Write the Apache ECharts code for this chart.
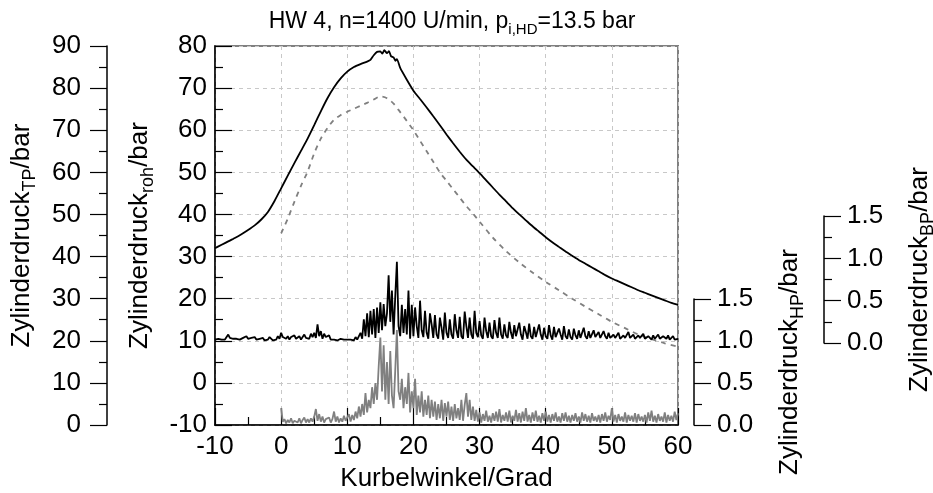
<!DOCTYPE html>
<html><head><meta charset="utf-8">
<script src="https://cdn.jsdelivr.net/npm/echarts@6/dist/echarts.min.js"></script>
<style>html,body{margin:0;padding:0;background:#fff}#c{width:933px;height:493px}</style>
</head><body><div id="c"></div>
<script>
// ---------- data ----------
const xMin = -10, xMax = 60, xInterval = 10;
const rohMin = -10, rohMax = 80;
const tpMin = 0, tpMax = 90;
const hpMin = 0, hpMax = 1.5;
const bpMin = 0, bpMax = 1.5;

// raw cylinder pressure (black solid)
const rohAngles = [-10,-9,-8,-7,-6,-5,-4,-3,-2,-1,0,1,2,3,4,5,6,7,8,9,10,11,12,13,13.5,14,14.5,15,15.3,15.6,16,16.3,16.6,17,17.3,17.5,18,19,20,21,22,23,24,25,26,27,28,29,30,31,32,33,34,35,36,37,38,39,40,41,42,43,44,45,46,47,48,49,50,51,52,53,54,55,56,57,58,59,60];
const rohValues = [32.0,32.8,33.6,34.4,35.3,36.3,37.4,38.8,40.6,43.2,46.2,49.2,52.2,55.1,58.0,61.2,64.5,67.6,70.2,72.3,73.9,75.0,75.7,76.3,76.7,77.8,78.6,78.7,78.2,79.0,78.3,78.8,77.6,77.3,76.5,76.9,74.8,72.0,69.4,67.4,65.4,63.3,61.2,59.0,56.9,54.9,53.0,51.4,49.8,48.1,46.4,44.7,43.1,41.5,40.0,38.6,37.2,35.9,34.6,33.4,32.3,31.2,30.2,29.2,28.3,27.4,26.5,25.6,24.8,24.1,23.4,22.7,22.0,21.4,20.8,20.2,19.6,19.0,18.5];

// low-pass filtered pressure (grey dashed, TP axis)
const tpAngles = [0,1,2,3,4,5,6,7,8,9,10,11,12,13,14,15,16,17,18,19,20,21,22,23,24,25,26,27,28,29,30,32,34,36,38,40,42,44,46,48,50,52,54,56,58,60];
const tpValues = [45.5,49.0,53.0,56.8,60.2,64.5,68.0,70.5,72.5,73.6,74.4,75.1,75.8,76.5,77.3,78.0,77.6,76.3,74.3,72.2,70.0,67.5,65.0,62.5,60.0,58.0,56.0,54.0,52.0,50.2,48.3,44.5,41.3,38.6,36.2,34.0,32.0,30.0,28.1,26.3,24.5,23.0,21.5,20.4,19.4,18.6];

// band-pass signal (black, BP axis), sampled every 0.25 deg from -10
const bpStart = -10, bpStep = 0.25;
const bpValues = [
0.04,0.03,0.05,0.03, 0.04,0.03,0.04,0.06, 0.10,0.06,0.04,0.05, 0.03,0.05,0.07,0.04,
0.03,0.06,0.04,0.08, 0.05,0.03,0.06,0.04, 0.07,0.04,0.03,0.05, 0.04,0.06,0.03,0.05,
0.04,0.07,0.05,0.03, 0.05,0.04,0.08,0.05, 0.12,0.07,0.09,0.05, 0.08,0.04,0.07,0.05,
0.09,0.05,0.06,0.08, 0.04,0.07,0.10,0.06, 0.08,0.05,0.11,0.07, 0.12,0.06,0.22,0.08,
0.14,0.05,0.11,0.07, 0.05,0.09,0.04,0.06, 0.04,0.05,0.03,0.04, 0.05,0.03,0.04,0.05,
0.04,0.06,0.04,0.05, 0.03,0.07,0.04,0.06, 0.12,0.05,0.28,0.08, 0.35,0.07,0.38,0.10,
0.40,0.06,0.42,0.12, 0.48,0.15,0.46,0.20, 0.35,0.80,0.25,0.62, 0.10,0.55,0.96,0.20,
0.08,0.45,0.12,0.40, 0.10,0.62,0.05,0.45,
0.08,0.42,0.20,0.06,0.50,0.15,0.07,0.38,0.12,0.05,0.35,0.22,
0.06,0.33,0.10,0.05,0.30,0.18,0.04,0.36,0.12,0.06,0.28,0.10,
0.05,0.34,0.15,0.06,0.31,0.08,0.05,0.37,0.20,0.06,0.30,0.10,
0.05,0.38,0.12,0.07,0.26,0.09,0.05,0.30,0.14,0.06,0.24,0.08,
0.05,0.27,0.12,0.06,0.30,0.10,0.05,0.22,0.09,0.06,0.25,0.12,
0.05,0.21,0.08,0.06,0.24,0.10,0.04,0.20,0.13,0.05,0.23,0.08,
0.05,0.19,0.07,0.06,0.22,0.10,0.04,0.18,0.08,0.05,0.21,0.09,
0.04,0.19,0.07,0.05,0.17,0.10,0.04,0.20,0.08,0.05,0.16,0.07,
0.04,0.17,0.09,0.05,0.15,0.06,0.04,0.18,0.08,0.05,0.14,0.06,
0.04,0.15,0.07,0.05,0.13,0.06,0.04,0.14,0.08,0.05,0.12,0.06,
0.04,0.10,0.06,0.05,0.12,0.05,0.04,0.09,0.06,0.05,0.13,0.06,
0.04,0.10,0.05,0.05,0.09,0.06,0.04,0.11,0.05,0.05,0.08,0.06,
0.04,0.09,0.05,0.06,0.10,0.05,0.04,0.08,0.06,0.05,0.09,0.04,
0.05,0.08,0.04,0.06,0.05];

// high-pass signal (grey, HP axis), sampled every 0.25 deg from 0
const hpStart = 0, hpStep = 0.25;
const hpValues = [
0.20,0.04,0.07,0.02, 0.06,0.03,0.08,0.02, 0.05,0.07,0.03,0.08, 0.02,0.06,0.09,0.03,
0.07,0.03,0.08,0.04, 0.10,0.19,0.05,0.13, 0.04,0.10,0.03,0.07, 0.05,0.09,0.03,0.07,
0.16,0.04,0.10,0.03, 0.08,0.04,0.11,0.05, 0.09,0.13,0.04,0.12, 0.06,0.16,0.08,0.22,
0.10,0.25,0.12,0.38, 0.15,0.30,0.20,0.45, 0.25,0.50,0.30,0.70, 1.04,0.40,0.95,0.30,
0.75,0.25,0.88,0.35, 0.20,0.65,1.13,0.40, 0.30,0.55,0.20,0.45, 0.25,0.62,0.15,0.40,
0.20,0.55,0.12,0.35, 0.15,0.40,0.10,0.30, 0.12,0.35,0.08,0.30, 0.10,0.28,0.06,0.25,
0.08,0.30,0.05,0.26, 0.10,0.28,0.06,0.22, 0.05,0.25,0.08,0.20, 0.06,0.30,0.05,0.24,
0.38,0.10,0.30,0.06, 0.22,0.05,0.18,0.04, 0.15,0.03,0.13,0.05, 0.17,0.04,0.11,0.03,
0.14,0.05,0.16,0.04, 0.19,0.03,0.12,0.05, 0.15,0.04,0.17,0.03, 0.11,0.05,0.18,0.04,
0.14,0.03,0.16,0.05, 0.20,0.04,0.12,0.03, 0.15,0.05,0.17,0.04, 0.11,0.03,0.14,0.05,
0.16,0.04,0.12,0.03, 0.13,0.05,0.15,0.04, 0.10,0.03,0.14,0.05, 0.15,0.04,0.11,0.03,
0.12,0.05,0.14,0.04, 0.10,0.03,0.15,0.05, 0.13,0.04,0.11,0.03, 0.14,0.05,0.10,0.04,
0.12,0.03,0.13,0.05, 0.15,0.04,0.11,0.06, 0.20,0.04,0.12,0.03, 0.13,0.05,0.10,0.04,
0.15,0.03,0.12,0.05, 0.11,0.04,0.14,0.03, 0.13,0.05,0.10,0.04, 0.12,0.03,0.15,0.05,
0.17,0.04,0.11,0.03, 0.13,0.05,0.10,0.04, 0.15,0.03,0.12,0.05, 0.11,0.04,0.16,0.06,
0.14];

const titleText = '{t|HW 4, n=1400 U/min, p}{s|i,HD}{t|=13.5 bar}';
const xName = 'Kurbelwinkel/Grad';
const rohName = '{t|Zylinderdruck}{s|roh}{t|/bar}';
const tpName = '{t|Zylinderdruck}{s|TP}{t|/bar}';
const hpName = '{t|Zylinderdruck}{s|HP}{t|/bar}';
const bpName = '{t|Zylinderdruck}{s|BP}{t|/bar}';

// ---------- chart ----------
const FONT = '"Liberation Sans", Arial, Helvetica, sans-serif';
const LBL = 26;
const nameRich = {
  t: { fontSize: 26, fontFamily: FONT, color: '#000', lineHeight: 34 },
  s: { fontSize: 18, fontFamily: FONT, color: '#000', lineHeight: 18, verticalAlign: 'bottom' }
};
const pairs = (xs, ys) => xs.map((x, i) => [x, ys[i]]);
const sampled = (start, step, ys) => ys.map((y, i) => [+(start + i * step).toFixed(4), y]);

const blackLine = { color: '#000', width: 1.5 };
const chart = echarts.init(document.getElementById('c'), null, { renderer: 'canvas' });
const yBase = (extra) => Object.assign({
  type: 'value',
  axisLine: { show: true, onZero: false, lineStyle: blackLine },
  axisTick: { show: true, length: 17, lineStyle: { color: '#000', width: 1.2 } },
  minorTick: { show: true, splitNumber: 2, length: 8, lineStyle: { color: '#000', width: 1.2 } },
  axisLabel: { fontSize: LBL, fontFamily: FONT, color: '#000' },
  splitLine: { show: false },
  nameLocation: 'middle', nameRotate: 90, nameMoveOverlap: false,
  nameTextStyle: { rich: nameRich }
}, extra);

chart.setOption({
  animation: false,
  backgroundColor: '#fff',
  title: {
    text: titleText, left: 447, top: 2, textAlign: 'center',
    textStyle: { fontWeight: 'normal', rich: {
      t: { fontSize: 23, fontFamily: FONT, color: '#000', lineHeight: 30, fontWeight: 'normal' },
      s: { fontSize: 15, fontFamily: FONT, color: '#000', lineHeight: 15, verticalAlign: 'bottom', fontWeight: 'normal' }
    } }
  },
  grid: [
    { left: 215, right: 255, top: 46, bottom: 68, show: true, borderColor: '#808080', borderWidth: 2, backgroundColor: 'transparent', outerBoundsMode: 'none' },
    { left: 215, right: 255, top: 299, bottom: 68, outerBoundsMode: 'none' },
    { left: 215, right: 255, top: 216, bottom: 150, outerBoundsMode: 'none' }
  ],
  xAxis: [
    { gridIndex: 0, type: 'value', min: xMin, max: xMax, interval: xInterval,
      axisLine: { show: true, onZero: false, lineStyle: blackLine },
      axisTick: { show: true, inside: true, length: 17, lineStyle: { color: '#000', width: 1.2 } },
      minorTick: { show: true, splitNumber: 2, length: 8, lineStyle: { color: '#000', width: 1.2 } },
      axisLabel: { fontSize: LBL, fontFamily: FONT, color: '#000', margin: 9 },
      splitLine: { show: true, lineStyle: { type: [4, 4], color: '#c8c8c8', width: 1 } },
      name: xName, nameLocation: 'middle', nameGap: 41, nameMoveOverlap: false,
      nameTextStyle: { fontSize: 26, fontFamily: FONT, color: '#000' } },
    { gridIndex: 1, type: 'value', min: xMin, max: xMax, show: false },
    { gridIndex: 2, type: 'value', min: xMin, max: xMax, show: false }
  ],
  yAxis: [
    yBase({ gridIndex: 0, position: 'left', min: rohMin, max: rohMax, interval: 10,
      axisTick: { show: true, inside: true, length: 17, lineStyle: { color: '#000', width: 1.2 } },
      axisLabel: { fontSize: LBL, fontFamily: FONT, color: '#000', margin: 8 },
      splitLine: { show: true, lineStyle: { type: [4, 4], color: '#c8c8c8', width: 1 } },
      name: rohName, nameGap: 58 }),
    yBase({ gridIndex: 0, position: 'left', offset: 108, min: tpMin, max: tpMax, interval: 10,
      axisLabel: { fontSize: LBL, fontFamily: FONT, color: '#000', margin: 26 },
      name: tpName, nameGap: 68 }),
    yBase({ gridIndex: 1, position: 'right', offset: 16, min: hpMin, max: hpMax, interval: 0.5,
      axisLabel: { fontSize: LBL, fontFamily: FONT, color: '#000', margin: 23, formatter: v => v.toFixed(1) },
      name: hpName, nameGap: 79 }),
    yBase({ gridIndex: 2, position: 'right', offset: 146, min: bpMin, max: bpMax, interval: 0.5,
      axisLabel: { fontSize: LBL, fontFamily: FONT, color: '#000', margin: 23, formatter: v => v.toFixed(1) },
      name: bpName, nameGap: 79 })
  ],
  series: [
    { name: 'HP', type: 'line', xAxisIndex: 1, yAxisIndex: 2, data: sampled(hpStart, hpStep, hpValues),
      showSymbol: false, lineStyle: { color: '#808080', width: 1.8 }, z: 2 },
    { name: 'TP', type: 'line', xAxisIndex: 0, yAxisIndex: 1, data: pairs(tpAngles, tpValues),
      showSymbol: false, smooth: 0.3, lineStyle: { color: '#808080', width: 1.8, type: [5, 5] }, z: 3 },
    { name: 'BP', type: 'line', xAxisIndex: 2, yAxisIndex: 3, data: sampled(bpStart, bpStep, bpValues),
      showSymbol: false, lineStyle: { color: '#000', width: 1.8 }, z: 4 },
    { name: 'roh', type: 'line', xAxisIndex: 0, yAxisIndex: 0, data: pairs(rohAngles, rohValues),
      showSymbol: false, smooth: 0.2, lineStyle: { color: '#000', width: 1.8 }, z: 5 }
  ]
});
</script></body></html>
